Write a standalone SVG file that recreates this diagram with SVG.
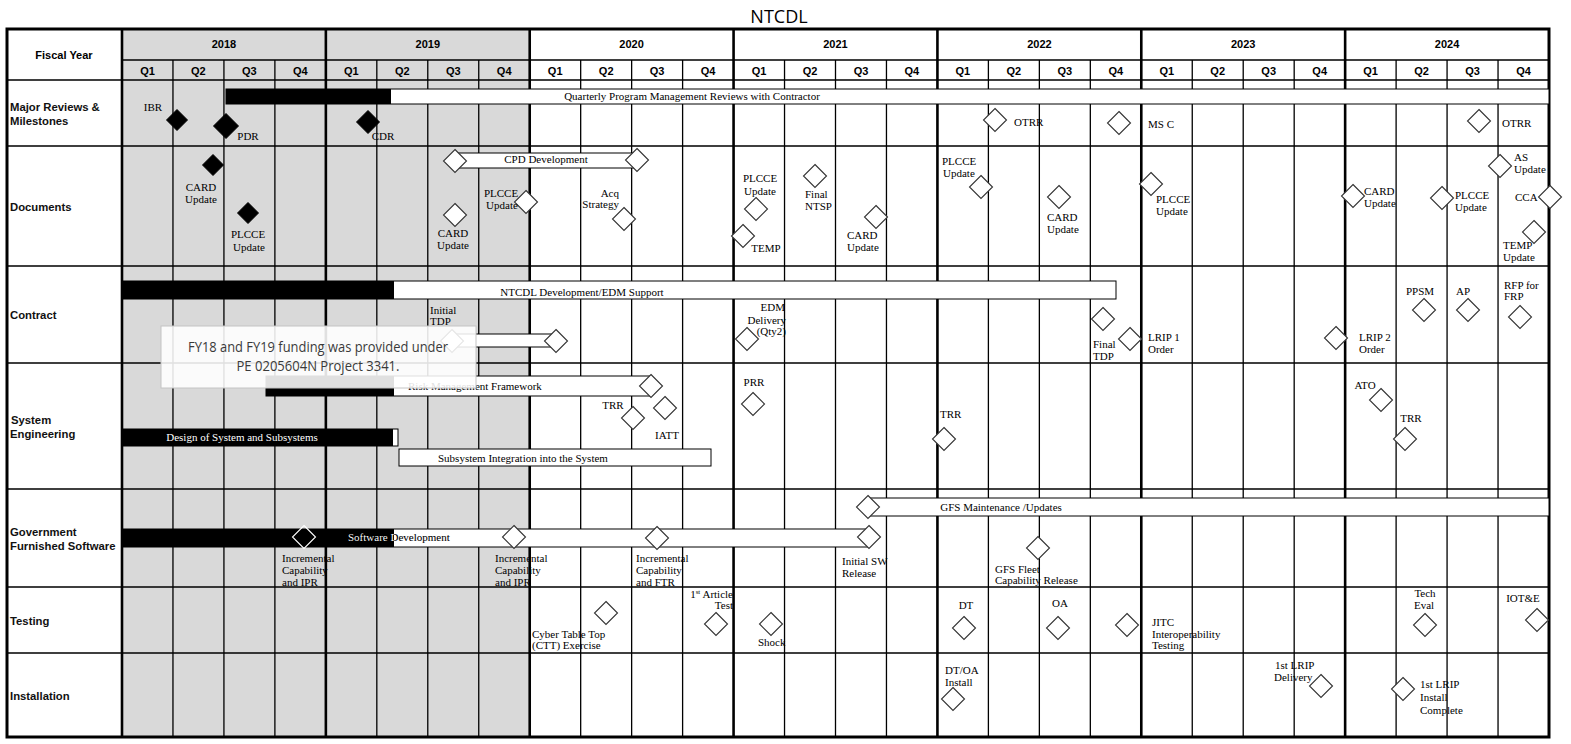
<svg xmlns="http://www.w3.org/2000/svg" xmlns:xlink="http://www.w3.org/1999/xlink" width="1571" height="744" viewBox="0 0 1571 744">
<style>
.bg{fill:#fff}
.gray{fill:#d9d9d9}
.ql{stroke:#000;stroke-width:1.3;fill:none}
.yl{stroke:#000;stroke-width:2.6;fill:none}
.hl{stroke:#000;stroke-width:1.5;fill:none}
.bar{fill:#fff;stroke:#000;stroke-width:1}
.blk{fill:#000}
.od{fill:#fff;stroke:#333;stroke-width:1.1}
.fd{fill:#000;stroke:#000;stroke-width:1}
.wd{fill:none;stroke:#fff;stroke-width:1.1}
.t{font-family:"Liberation Serif","Times New Roman",serif;font-size:11px;fill:#000}
.tw{font-family:"Liberation Serif","Times New Roman",serif;font-size:11px;fill:#fff}
.h{font-family:"Liberation Sans",Arial,sans-serif;font-weight:bold;font-size:11px;fill:#000;text-anchor:middle}
.r{font-family:"Liberation Sans",Arial,sans-serif;font-weight:bold;font-size:11.3px;fill:#111}
.title{font-family:"Open Sans","Noto Sans",sans-serif;font-size:18px;fill:#000;text-anchor:middle}
.note{font-family:"Open Sans","Noto Sans",sans-serif;font-size:14px;fill:#3a3a3a;text-anchor:middle}
</style>
<defs>
<path id="dia" d="M0,-11.5L11.5,0L0,11.5L-11.5,0Z"/>
<path id="diaS" d="M0,-10.5L10.5,0L0,10.5L-10.5,0Z"/>
<path id="diaL" d="M0,-12.5L12.5,0L0,12.5L-12.5,0Z"/>
<linearGradient id="swText" gradientUnits="userSpaceOnUse" x1="122" y1="0" x2="868" y2="0">
<stop offset="0" stop-color="#fff"/>
<stop offset="0.3646" stop-color="#fff"/>
<stop offset="0.3646" stop-color="#000"/>
<stop offset="1" stop-color="#000"/>
</linearGradient>
</defs>
<rect class="bg" x="0" y="0" width="1571" height="744"/>
<text class="title" x="779" y="23">NTCDL</text>

<g id="grid">
<rect class="gray" x="122" y="29" width="407.71" height="708"/>
<path class="ql" d="M172.96,60V737M223.93,60V737M274.89,60V737M376.82,60V737M427.78,60V737M478.75,60V737M580.68,60V737M631.64,60V737M682.61,60V737M784.53,60V737M835.5,60V737M886.46,60V737M988.39,60V737M1039.36,60V737M1090.32,60V737M1192.25,60V737M1243.21,60V737M1294.18,60V737M1396.11,60V737M1447.07,60V737M1498.04,60V737"/>
<path class="hl" d="M122,60H1549M7,80H1549M7,146H1549M7,266H1549M7,363H1549M7,489H1549M7,587H1549M7,653H1549"/>
<path class="yl" d="M122,29V737M325.86,29V737M529.71,29V737M733.57,29V737M937.43,29V737M1141.29,29V737M1345.14,29V737"/>
<rect x="7" y="29" width="1542" height="708" fill="none" stroke="#000" stroke-width="3"/>
</g>

<g id="header">
<text class="h" x="64" y="59">Fiscal Year</text>
<text class="h" x="223.9" y="48">2018</text>
<text class="h" x="427.8" y="48">2019</text>
<text class="h" x="631.6" y="48">2020</text>
<text class="h" x="835.5" y="48">2021</text>
<text class="h" x="1039.4" y="48">2022</text>
<text class="h" x="1243.2" y="48">2023</text>
<text class="h" x="1447.1" y="48">2024</text>
<text class="h" y="75"><tspan x="147.5">Q1</tspan><tspan x="198.4">Q2</tspan><tspan x="249.4">Q3</tspan><tspan x="300.4">Q4</tspan><tspan x="351.3">Q1</tspan><tspan x="402.3">Q2</tspan><tspan x="453.3">Q3</tspan><tspan x="504.2">Q4</tspan><tspan x="555.2">Q1</tspan><tspan x="606.2">Q2</tspan><tspan x="657.1">Q3</tspan><tspan x="708.1">Q4</tspan><tspan x="759">Q1</tspan><tspan x="810">Q2</tspan><tspan x="861">Q3</tspan><tspan x="911.9">Q4</tspan><tspan x="962.9">Q1</tspan><tspan x="1013.9">Q2</tspan><tspan x="1064.8">Q3</tspan><tspan x="1115.8">Q4</tspan><tspan x="1166.8">Q1</tspan><tspan x="1217.7">Q2</tspan><tspan x="1268.7">Q3</tspan><tspan x="1319.7">Q4</tspan><tspan x="1370.6">Q1</tspan><tspan x="1421.6">Q2</tspan><tspan x="1472.6">Q3</tspan><tspan x="1523.5">Q4</tspan></text>
</g>

<g id="row-labels">
<text class="r" x="10" y="111">Major Reviews &amp;</text>
<text class="r" x="10" y="125">Milestones</text>
<text class="r" x="10" y="211">Documents</text>
<text class="r" x="10" y="319">Contract</text>
<text class="r" x="11" y="424">System</text>
<text class="r" x="10" y="438">Engineering</text>
<text class="r" x="10" y="536">Government</text>
<text class="r" x="10" y="550">Furnished Software</text>
<text class="r" x="10" y="625">Testing</text>
<text class="r" x="10" y="700">Installation</text>
</g>

<g id="connectors">
<g id="bar-pmr">
<rect class="bar" x="226" y="89" width="1323" height="15"/>
<rect class="blk" x="226" y="89" width="165" height="15"/>
<text class="t" x="692" y="100" text-anchor="middle">Quarterly Program Management Reviews with Contractor</text>
</g>
<g id="bar-cpd">
<rect class="bar" x="455" y="153" width="182" height="15"/>
<text class="t" x="546" y="163" text-anchor="middle">CPD Development</text>
</g>
<g id="bar-ntcdl">
<rect class="bar" x="122" y="281" width="994" height="18"/>
<rect class="blk" x="122" y="281" width="272" height="18"/>
<text class="t" x="582" y="296" text-anchor="middle">NTCDL Development/EDM Support</text>
</g>
<g id="bar-tdp">
<rect class="bar" x="452" y="334" width="104" height="13"/>
</g>
<g id="bar-rmf">
<rect class="bar" x="266" y="376" width="384" height="20"/>
<rect class="blk" x="266" y="376" width="128" height="20"/>
<text class="t" x="408" y="390">Risk Management Framework</text>
</g>
<g id="bar-design">
<rect class="bar" x="122" y="429" width="276" height="17"/>
<rect class="blk" x="122" y="429" width="271" height="17"/>
<text class="tw" x="242" y="441" text-anchor="middle">Design of System and Subsystems</text>
</g>
<g id="bar-integ">
<rect class="bar" x="399" y="449" width="312" height="17"/>
<text class="t" x="438" y="462">Subsystem Integration into the System</text>
</g>
<g id="bar-gfsm">
<rect class="bar" x="868" y="498" width="681" height="18"/>
<text class="t" x="1001" y="511" text-anchor="middle">GFS Maintenance /Updates</text>
</g>
<g id="bar-sw">
<rect class="bar" x="122" y="529" width="746" height="18"/>
<rect class="blk" x="122" y="529" width="272" height="18"/>
<text class="t" x="348" y="541" fill="url(#swText)" style="fill:url(#swText)">Software Development</text>
</g>
</g>

<g id="m-ibr"><use xlink:href="#diaS" x="177" y="120" class="fd"/><text class="t" x="153" y="111" text-anchor="middle">IBR</text></g>
<g id="m-pdr"><use xlink:href="#diaL" x="226" y="126" class="fd"/><text class="t" x="248" y="140" text-anchor="middle">PDR</text></g>
<g id="m-cdr"><use xlink:href="#dia" x="368" y="122" class="fd"/><text class="t" x="383" y="140" text-anchor="middle">CDR</text></g>
<g id="m-otrr1"><use xlink:href="#dia" x="995" y="120" class="od"/><text class="t" x="1014" y="126">OTRR</text></g>
<g id="m-msc"><use xlink:href="#dia" x="1119" y="123" class="od"/><text class="t" x="1148" y="128">MS C</text></g>
<g id="m-otrr2"><use xlink:href="#dia" x="1479" y="121" class="od"/><text class="t" x="1502" y="127">OTRR</text></g>

<g id="d-card18"><use xlink:href="#diaS" x="213" y="165" class="fd"/><text class="t" x="201" y="191" text-anchor="middle">CARD</text><text class="t" x="201" y="203" text-anchor="middle">Update</text></g>
<g id="d-plcce18"><use xlink:href="#diaS" x="248" y="213" class="fd"/><text class="t" x="248" y="238" text-anchor="middle">PLCCE</text><text class="t" x="249" y="251" text-anchor="middle">Update</text></g>
<g id="d-cpd-start"><use xlink:href="#dia" x="455" y="161" class="od"/></g>
<g id="d-cpd-end"><use xlink:href="#dia" x="637" y="160" class="od"/></g>
<g id="d-card19"><use xlink:href="#dia" x="455" y="215" class="od"/><text class="t" x="453" y="237" text-anchor="middle">CARD</text><text class="t" x="453" y="249" text-anchor="middle">Update</text></g>
<g id="d-plcce19"><use xlink:href="#dia" x="526" y="202" class="od"/><text class="t" x="501" y="197" text-anchor="middle">PLCCE</text><text class="t" x="502" y="209" text-anchor="middle">Update</text></g>
<g id="d-acq"><use xlink:href="#dia" x="624" y="219" class="od"/><text class="t" x="619" y="197" text-anchor="end">Acq</text><text class="t" x="619" y="208" text-anchor="end">Strategy</text></g>
<g id="d-plcce21"><use xlink:href="#dia" x="756" y="209" class="od"/><text class="t" x="760" y="182" text-anchor="middle">PLCCE</text><text class="t" x="760" y="195" text-anchor="middle">Update</text></g>
<g id="d-temp21"><use xlink:href="#dia" x="743" y="236" class="od"/><text class="t" x="766" y="252" text-anchor="middle">TEMP</text></g>
<g id="d-ntsp"><use xlink:href="#dia" x="815" y="176" class="od"/><text class="t" x="805" y="198">Final</text><text class="t" x="805" y="210">NTSP</text></g>
<g id="d-card21"><use xlink:href="#dia" x="876" y="217" class="od"/><text class="t" x="847" y="239">CARD</text><text class="t" x="847" y="251">Update</text></g>
<g id="d-plcce22"><use xlink:href="#dia" x="981" y="187" class="od"/><text class="t" x="942" y="165">PLCCE</text><text class="t" x="943" y="177">Update</text></g>
<g id="d-card22"><use xlink:href="#dia" x="1059" y="197" class="od"/><text class="t" x="1047" y="221">CARD</text><text class="t" x="1047" y="233">Update</text></g>
<g id="d-plcce23"><use xlink:href="#dia" x="1151" y="184" class="od"/><text class="t" x="1156" y="203">PLCCE</text><text class="t" x="1156" y="215">Update</text></g>
<g id="d-card24"><use xlink:href="#dia" x="1353" y="196" class="od"/><text class="t" x="1364" y="195">CARD</text><text class="t" x="1364" y="207">Update</text></g>
<g id="d-plcce24"><use xlink:href="#dia" x="1442" y="198" class="od"/><text class="t" x="1455" y="199">PLCCE</text><text class="t" x="1455" y="211">Update</text></g>
<g id="d-as"><use xlink:href="#dia" x="1500" y="166" class="od"/><text class="t" x="1514" y="161">AS</text><text class="t" x="1514" y="173">Update</text></g>
<g id="d-cca"><use xlink:href="#dia" x="1550" y="197" class="od"/><text class="t" x="1515" y="201">CCA</text></g>
<g id="d-temp24"><use xlink:href="#dia" x="1534" y="232" class="od"/><text class="t" x="1503" y="249">TEMP</text><text class="t" x="1503" y="261">Update</text></g>

<g id="c-tdp-start"><use xlink:href="#dia" x="452" y="341" class="od"/><text class="t" x="430" y="314">Initial</text><text class="t" x="430" y="325">TDP</text></g>
<g id="c-tdp-end"><use xlink:href="#dia" x="556" y="341" class="od"/></g>
<g id="c-edm"><use xlink:href="#dia" x="747" y="339" class="od"/><text class="t" x="785" y="311" text-anchor="end">EDM</text><text class="t" x="786" y="324" text-anchor="end">Delivery</text><text class="t" x="786" y="335" text-anchor="end">(Qty2)</text></g>
<g id="c-finaltdp"><use xlink:href="#dia" x="1103" y="319" class="od"/><text class="t" x="1093" y="348">Final</text><text class="t" x="1093" y="360">TDP</text></g>
<g id="c-lrip1"><use xlink:href="#dia" x="1130" y="339" class="od"/><text class="t" x="1148" y="341">LRIP 1</text><text class="t" x="1148" y="353">Order</text></g>
<g id="c-lrip2"><use xlink:href="#dia" x="1336" y="338" class="od"/><text class="t" x="1359" y="341">LRIP 2</text><text class="t" x="1359" y="353">Order</text></g>
<g id="c-ppsm"><use xlink:href="#dia" x="1424" y="310" class="od"/><text class="t" x="1420" y="295" text-anchor="middle">PPSM</text></g>
<g id="c-ap"><use xlink:href="#dia" x="1468" y="310" class="od"/><text class="t" x="1463" y="295" text-anchor="middle">AP</text></g>
<g id="c-rfp"><use xlink:href="#dia" x="1520" y="317" class="od"/><text class="t" x="1504" y="289">RFP for</text><text class="t" x="1504" y="300">FRP</text></g>

<g id="s-rmf-end"><use xlink:href="#dia" x="651" y="386" class="od"/></g>
<g id="s-trr20"><use xlink:href="#dia" x="633" y="418" class="od"/><text class="t" x="613" y="409" text-anchor="middle">TRR</text></g>
<g id="s-iatt"><use xlink:href="#dia" x="665" y="408" class="od"/><text class="t" x="667" y="439" text-anchor="middle">IATT</text></g>
<g id="s-prr"><use xlink:href="#dia" x="753" y="404" class="od"/><text class="t" x="754" y="386" text-anchor="middle">PRR</text></g>
<g id="s-trr22"><use xlink:href="#dia" x="944" y="439" class="od"/><text class="t" x="940" y="418">TRR</text></g>
<g id="s-ato"><use xlink:href="#dia" x="1381" y="400" class="od"/><text class="t" x="1365" y="389" text-anchor="middle">ATO</text></g>
<g id="s-trr24"><use xlink:href="#dia" x="1405" y="439" class="od"/><text class="t" x="1411" y="422" text-anchor="middle">TRR</text></g>

<g id="g-gfsm-start"><use xlink:href="#dia" x="868" y="507" class="od"/></g>
<g id="g-inc1"><use xlink:href="#dia" x="304" y="537" class="wd"/><text class="t" x="282" y="562">Incremental</text><text class="t" x="282" y="574">Capability</text><text class="t" x="282" y="586">and IPR</text></g>
<g id="g-inc2"><use xlink:href="#dia" x="514" y="537" class="od"/><text class="t" x="495" y="562">Incremental</text><text class="t" x="495" y="574">Capability</text><text class="t" x="495" y="586">and IPR</text></g>
<g id="g-inc3"><use xlink:href="#dia" x="657" y="538" class="od"/><text class="t" x="636" y="562">Incremental</text><text class="t" x="636" y="574">Capability</text><text class="t" x="636" y="586">and FTR</text></g>
<g id="g-initsw"><use xlink:href="#dia" x="869" y="537" class="od"/><text class="t" x="842" y="565">Initial SW</text><text class="t" x="842" y="577">Release</text></g>
<g id="g-fleet"><use xlink:href="#dia" x="1038" y="548" class="od"/><text class="t" x="995" y="573">GFS Fleet</text><text class="t" x="995" y="584">Capability Release</text></g>

<g id="t-ctt"><use xlink:href="#dia" x="606" y="613" class="od"/><text class="t" x="532" y="638">Cyber Table Top</text><text class="t" x="532" y="649">(CTT) Exercise</text></g>
<g id="t-fat"><use xlink:href="#dia" x="716" y="624" class="od"/><text class="t" x="733" y="598" text-anchor="end">1<tspan font-size="7" dy="-4">st</tspan><tspan dy="4"> Article</tspan></text><text class="t" x="733" y="609" text-anchor="end">Test</text></g>
<g id="t-shock"><use xlink:href="#dia" x="771" y="624" class="od"/><text class="t" x="758" y="646">Shock</text></g>
<g id="t-dt"><use xlink:href="#dia" x="964" y="628" class="od"/><text class="t" x="966" y="609" text-anchor="middle">DT</text></g>
<g id="t-oa"><use xlink:href="#dia" x="1058" y="628" class="od"/><text class="t" x="1060" y="607" text-anchor="middle">OA</text></g>
<g id="t-jitc"><use xlink:href="#dia" x="1127" y="625" class="od"/><text class="t" x="1152" y="626">JITC</text><text class="t" x="1152" y="638">Interoperability</text><text class="t" x="1152" y="649">Testing</text></g>
<g id="t-tech"><use xlink:href="#dia" x="1425" y="625" class="od"/><text class="t" x="1425" y="597" text-anchor="middle">Tech</text><text class="t" x="1424" y="609" text-anchor="middle">Eval</text></g>
<g id="t-iote"><use xlink:href="#dia" x="1537" y="620" class="od"/><text class="t" x="1523" y="602" text-anchor="middle">IOT&amp;E</text></g>

<g id="i-dtoa"><use xlink:href="#dia" x="953" y="699" class="od"/><text class="t" x="945" y="674">DT/OA</text><text class="t" x="945" y="686">Install</text></g>
<g id="i-lripdel"><use xlink:href="#dia" x="1321" y="686" class="od"/><text class="t" x="1275" y="669">1st LRIP</text><text class="t" x="1274" y="681">Delivery</text></g>
<g id="i-lripinst"><use xlink:href="#dia" x="1403" y="689" class="od"/><text class="t" x="1420" y="688">1st LRIP</text><text class="t" x="1420" y="701">Install</text><text class="t" x="1420" y="714">Complete</text></g>

<g id="callout">
<rect x="161" y="326" width="315" height="62" fill="#fff" fill-opacity="0.88" stroke="#c4c4c4" stroke-width="1"/>
<text class="note" x="318" y="352" textLength="260" lengthAdjust="spacingAndGlyphs">FY18 and FY19 funding was provided under</text>
<text class="note" x="318" y="371" textLength="163" lengthAdjust="spacingAndGlyphs">PE 0205604N Project 3341.</text>
</g>
</svg>
